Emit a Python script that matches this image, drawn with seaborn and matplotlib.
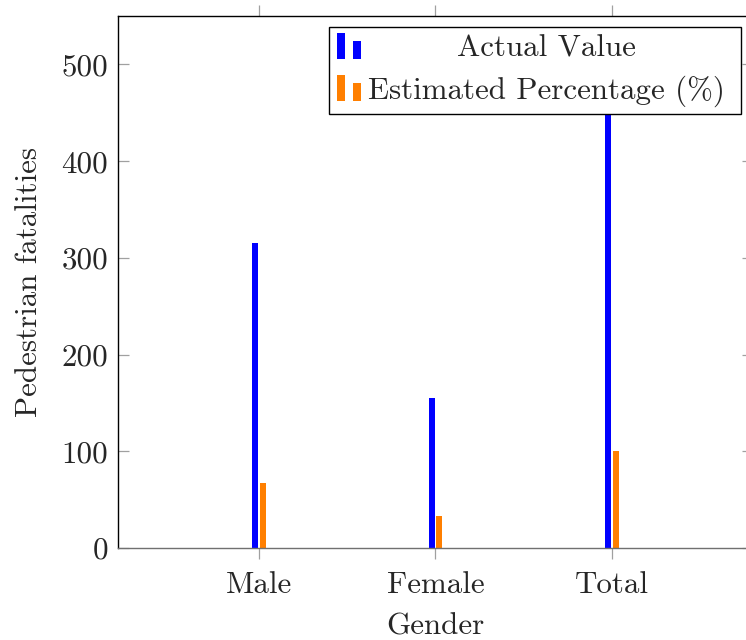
import matplotlib
matplotlib.use("Agg")
import matplotlib.pyplot as plt
from matplotlib.patches import Rectangle
from matplotlib.legend_handler import HandlerBase
import seaborn as sns
import pandas as pd

# Pedestrian fatalities by gender
genders = ["Male", "Female", "Total"]
actual_values = [315, 155, 470]
estimated_percentage = [67, 33, 100]
series_names = ["Actual Value", "Estimated Percentage (%)"]
series_colors = ["#0000ff", "#ff7f00"]
y_ticks = [0, 100, 200, 300, 400, 500]

df = pd.DataFrame({
    "Gender": genders * 2,
    "Series": [series_names[0]] * len(genders) + [series_names[1]] * len(genders),
    "Value": actual_values + estimated_percentage,
})

sns.set_theme(style="white")
plt.rcParams["font.family"] = ["serif"]
plt.rcParams["font.serif"] = ["cmr10", "DejaVu Serif"]
plt.rcParams["mathtext.fontset"] = "cm"
plt.rcParams["axes.formatter.use_mathtext"] = True

FS = 22.3
fig = plt.figure(figsize=(7.46, 6.4), dpi=100)
ax = fig.add_axes([118 / 746, 92 / 640, 635 / 746, 532 / 640])

sns.barplot(data=df, x="Gender", y="Value", hue="Series", order=genders,
            hue_order=series_names, palette=series_colors, saturation=1,
            width=0.085, gap=0.2, linewidth=0, errorbar=None, ax=ax,
            legend=False)

ax.set_xlim(-0.8, 2.8)
ax.set_ylim(0, 550)
ax.set_yticks(y_ticks)
ax.set_yticklabels([str(v) for v in y_ticks])

ax.set_xlabel("Gender", fontsize=FS, labelpad=10)
ax.set_ylabel("Pedestrian fatalities", fontsize=FS, labelpad=13)

for side in ["left", "right", "top"]:
    ax.spines[side].set_visible(True)
    ax.spines[side].set_color("black")
    ax.spines[side].set_linewidth(1.0)
ax.spines["bottom"].set_visible(True)
ax.spines["bottom"].set_color("#707070")
ax.spines["bottom"].set_linewidth(1.0)

ax.tick_params(axis="x", which="major", direction="out", length=8, width=0.9,
               color="#a0a0a0", top=True, bottom=True, labelsize=FS, pad=8.5)
ax.tick_params(axis="y", which="major", direction="in", length=8, width=0.9,
               color="#a0a0a0", left=True, right=True, labelsize=FS, pad=7)


class TwoBarHandler(HandlerBase):
    def create_artists(self, legend, orig_handle, xdescent, ydescent,
                       width, height, fontsize, trans):
        color = orig_handle.get_facecolor()
        bw = width * 0.32
        y0 = -ydescent - height * 0.12
        r1 = Rectangle((-xdescent, y0), bw, height * 1.2,
                       facecolor=color, edgecolor="none", transform=trans)
        r2 = Rectangle((-xdescent + width * 0.64, y0), bw, height * 0.85,
                       facecolor=color, edgecolor="none", transform=trans)
        return [r1, r2]


EXTRA = 8  # pixels of extra room kept on the right of the labels
handles = [Rectangle((0, 0), 1, 1, facecolor=c) for c in series_colors]
leg = ax.legend(handles, series_names, loc="upper right",
                bbox_to_anchor=(0.981, 0.979), fontsize=FS, frameon=True,
                fancybox=False, edgecolor="black", framealpha=1,
                handler_map={Rectangle: TwoBarHandler()},
                handlelength=0.82, handleheight=0.7,
                handletextpad=0.2 + EXTRA / (FS * 100 / 72),
                borderpad=0.25, labelspacing=0.4, borderaxespad=0)
leg.get_frame().set_linewidth(1.0)

# center the shorter legend label over the longer one
fig.canvas.draw()
renderer = fig.canvas.get_renderer()
texts = leg.get_texts()
w0 = texts[0].get_window_extent(renderer).width
w1 = texts[1].get_window_extent(renderer).width
texts[0].set_x((w1 - w0) / 2 - EXTRA)
texts[1].set_x(-EXTRA)

fig.savefig("out.png", dpi=100)
